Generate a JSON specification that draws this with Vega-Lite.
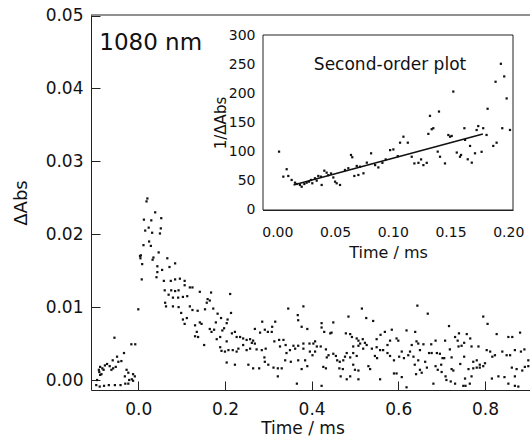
{
"$schema": "https://vega.github.io/schema/vega-lite/v6.json",
"width": 439, "height": 375,
"autosize": {"type": "none"},
"padding": {"left": 91, "top": 15, "right": 0, "bottom": 51},
"background": "white",
"config": {"view": {"stroke": null}, "font": "DejaVu Sans",
  "axis": {"domainColor": "#222", "tickColor": "#222", "labelColor": "#111", "titleColor": "#111", "labelFont": "DejaVu Sans", "titleFont": "DejaVu Sans", "titleFontWeight": "normal", "grid": false, "domainWidth": 1, "tickWidth": 1}},
"datasets": {
"main": [
{"t":-0.097,"a":-0.0007},{"t":-0.095,"a":0.0},{"t":-0.091,"a":0.0014},{"t":-0.090,"a":0.0011},{"t":-0.089,"a":-0.0009},{"t":-0.088,"a":0.0018},{"t":-0.088,"a":0.0007},{"t":-0.085,"a":0.0008},{"t":-0.083,"a":0.0016},{"t":-0.080,"a":0.0014},{"t":-0.079,"a":-0.0008},{"t":-0.077,"a":0.0020},{"t":-0.072,"a":0.0022},{"t":-0.068,"a":-0.0007},{"t":-0.066,"a":0.0019},{"t":-0.062,"a":0.0014},{"t":-0.059,"a":0.0027},{"t":-0.058,"a":0.0016},{"t":-0.055,"a":0.0058},{"t":-0.054,"a":-0.0007},{"t":-0.052,"a":0.0018},{"t":-0.049,"a":0.0032},{"t":-0.046,"a":0.0025},{"t":-0.041,"a":-0.0007},{"t":-0.039,"a":0.0026},{"t":-0.033,"a":0.0037},{"t":-0.031,"a":0.0005},{"t":-0.030,"a":-0.0005},{"t":-0.027,"a":0.0014},{"t":-0.023,"a":0.0010},{"t":-0.023,"a":-0.0005},{"t":-0.021,"a":0.0},{"t":-0.016,"a":0.0049},{"t":-0.015,"a":0.0001},{"t":-0.012,"a":0.0008},{"t":-0.012,"a":-0.0001},{"t":-0.008,"a":0.0005},{"t":-0.007,"a":0.0049},
{"t":0.000,"a":0.0097},{"t":0.004,"a":0.0170},{"t":0.005,"a":0.0167},{"t":0.006,"a":0.0171},{"t":0.008,"a":0.0138},{"t":0.009,"a":0.0159},{"t":0.012,"a":0.0185},{"t":0.013,"a":0.0220},{"t":0.016,"a":0.0205},{"t":0.019,"a":0.0245},{"t":0.021,"a":0.0249},{"t":0.024,"a":0.0209},{"t":0.025,"a":0.0190},{"t":0.029,"a":0.0184},{"t":0.030,"a":0.0219},{"t":0.032,"a":0.0202},{"t":0.033,"a":0.0165},{"t":0.035,"a":0.0168},{"t":0.039,"a":0.0230},{"t":0.042,"a":0.0141},{"t":0.044,"a":0.0156},{"t":0.044,"a":0.0148},{"t":0.047,"a":0.0175},{"t":0.050,"a":0.0201},{"t":0.052,"a":0.0208},{"t":0.053,"a":0.0222},{"t":0.055,"a":0.0151},{"t":0.059,"a":0.0136},{"t":0.061,"a":0.0123},{"t":0.062,"a":0.0106},{"t":0.064,"a":0.0101},{"t":0.067,"a":0.0167},{"t":0.070,"a":0.0117},{"t":0.072,"a":0.0155},{"t":0.075,"a":0.0136},{"t":0.076,"a":0.0123},{"t":0.080,"a":0.0113},{"t":0.080,"a":0.0101},{"t":0.085,"a":0.0160},{"t":0.085,"a":0.0138},{"t":0.085,"a":0.0122},{"t":0.092,"a":0.0113},{"t":0.093,"a":0.0123},{"t":0.093,"a":0.0100},{"t":0.096,"a":0.0139},{"t":0.099,"a":0.0092},{"t":0.103,"a":0.0114},{"t":0.103,"a":0.0083},{"t":0.107,"a":0.0136},{"t":0.107,"a":0.0130},{"t":0.107,"a":0.0077},{"t":0.112,"a":0.0085},{"t":0.113,"a":0.0115},
{"t":0.119,"a":0.0127},{"t":0.125,"a":0.0127},{"t":0.142,"a":0.0121},{"t":0.168,"a":0.0120},{"t":0.160,"a":0.0111},{"t":0.158,"a":0.0106},{"t":0.165,"a":0.0109},{"t":0.119,"a":0.0101},{"t":0.125,"a":0.0096},{"t":0.137,"a":0.0095},{"t":0.154,"a":0.0097},{"t":0.173,"a":0.0098},{"t":0.212,"a":0.0118},{"t":0.183,"a":0.0091},{"t":0.214,"a":0.0092},{"t":0.191,"a":0.0085},{"t":0.206,"a":0.0083},{"t":0.204,"a":0.0078},{"t":0.179,"a":0.0079},{"t":0.142,"a":0.0079},{"t":0.146,"a":0.0077},{"t":0.131,"a":0.0075},{"t":0.165,"a":0.0070},{"t":0.175,"a":0.0069},{"t":0.169,"a":0.0066},{"t":0.198,"a":0.0071},{"t":0.194,"a":0.0068},{"t":0.223,"a":0.0066},{"t":0.135,"a":0.0066},{"t":0.131,"a":0.0060},{"t":0.138,"a":0.0059},{"t":0.189,"a":0.0059},{"t":0.204,"a":0.0053},{"t":0.152,"a":0.0048},{"t":0.181,"a":0.0056},{"t":0.216,"a":0.0064},{"t":0.235,"a":0.0059},{"t":0.242,"a":0.0057},{"t":0.250,"a":0.0055},{"t":0.258,"a":0.0056},{"t":0.265,"a":0.0054},{"t":0.269,"a":0.0050},{"t":0.262,"a":0.0051},{"t":0.227,"a":0.0059},{"t":0.269,"a":0.0070},{"t":0.281,"a":0.0065},{"t":0.292,"a":0.0069},{"t":0.299,"a":0.0066},{"t":0.308,"a":0.0066},{"t":0.286,"a":0.0080},{"t":0.316,"a":0.0080},{"t":0.309,"a":0.0073},{"t":0.242,"a":0.0048},{"t":0.231,"a":0.0043},{"t":0.218,"a":0.0041},{"t":0.227,"a":0.0039},{"t":0.189,"a":0.0045},{"t":0.192,"a":0.0040},{"t":0.200,"a":0.0039},{"t":0.208,"a":0.0041},{"t":0.250,"a":0.0041},{"t":0.258,"a":0.0043},{"t":0.273,"a":0.0042},{"t":0.285,"a":0.0041},{"t":0.294,"a":0.0043},{"t":0.314,"a":0.0053},{"t":0.325,"a":0.0055},{"t":0.335,"a":0.0055},{"t":0.340,"a":0.0048},{"t":0.327,"a":0.0046},{"t":0.350,"a":0.0041},{"t":0.342,"a":0.0037},{"t":0.358,"a":0.0047},{"t":0.362,"a":0.0043},{"t":0.369,"a":0.0047},{"t":0.381,"a":0.0043},{"t":0.291,"a":0.0031},{"t":0.292,"a":0.0025},{"t":0.300,"a":0.0021},{"t":0.312,"a":0.0017},{"t":0.322,"a":0.0016},{"t":0.331,"a":0.0016},{"t":0.339,"a":0.0027},{"t":0.352,"a":0.0025},{"t":0.369,"a":0.0027},{"t":0.254,"a":0.0021},{"t":0.265,"a":0.0016},{"t":0.279,"a":0.0016},{"t":0.204,"a":0.0024},{"t":0.223,"a":0.0021},{"t":0.322,"a":0.0005},{"t":0.366,"a":-0.0005},{"t":0.377,"a":0.0015},{"t":0.346,"a":0.0098},{"t":0.381,"a":0.0101},{"t":0.369,"a":0.0082},{"t":0.368,"a":0.0089},{"t":0.377,"a":0.0073},
{"t":0.516,"a":0.0098},{"t":0.644,"a":0.0102},{"t":0.485,"a":0.0087},{"t":0.526,"a":0.0085},{"t":0.542,"a":0.0081},{"t":0.450,"a":0.0079},{"t":0.423,"a":0.0078},{"t":0.423,"a":0.0072},{"t":0.390,"a":0.0070},{"t":0.429,"a":0.0066},{"t":0.443,"a":0.0064},{"t":0.446,"a":0.0065},{"t":0.479,"a":0.0064},{"t":0.489,"a":0.0063},{"t":0.493,"a":0.0059},{"t":0.504,"a":0.0057},{"t":0.508,"a":0.0054},{"t":0.518,"a":0.0056},{"t":0.523,"a":0.0051},{"t":0.512,"a":0.0050},{"t":0.550,"a":0.0056},{"t":0.559,"a":0.0062},{"t":0.569,"a":0.0066},{"t":0.581,"a":0.0054},{"t":0.575,"a":0.0048},{"t":0.585,"a":0.0069},{"t":0.596,"a":0.0057},{"t":0.600,"a":0.0054},{"t":0.619,"a":0.0068},{"t":0.639,"a":0.0066},{"t":0.642,"a":0.0053},{"t":0.631,"a":0.0048},{"t":0.646,"a":0.0050},{"t":0.627,"a":0.0039},
{"t":0.381,"a":0.0050},{"t":0.395,"a":0.0050},{"t":0.404,"a":0.0050},{"t":0.408,"a":0.0053},{"t":0.412,"a":0.0046},{"t":0.396,"a":0.0039},{"t":0.408,"a":0.0039},{"t":0.402,"a":0.0034},{"t":0.385,"a":0.0027},{"t":0.390,"a":0.0019},{"t":0.421,"a":0.0046},{"t":0.433,"a":0.0042},{"t":0.439,"a":0.0034},{"t":0.435,"a":0.0031},{"t":0.450,"a":0.0036},{"t":0.456,"a":0.0033},{"t":0.459,"a":0.0027},{"t":0.465,"a":0.0025},{"t":0.473,"a":0.0027},{"t":0.477,"a":0.0032},{"t":0.427,"a":0.0018},{"t":0.433,"a":0.0016},{"t":0.464,"a":0.0016},{"t":0.472,"a":0.0015},{"t":0.496,"a":0.0021},{"t":0.500,"a":0.0014},{"t":0.508,"a":0.0013},{"t":0.531,"a":0.0019},{"t":0.535,"a":0.0015},{"t":0.467,"a":0.0005},{"t":0.481,"a":0.0001},{"t":0.489,"a":0.0005},{"t":0.508,"a":0.0001},{"t":0.558,"a":0.0001},{"t":0.590,"a":0.0009},{"t":0.596,"a":0.0009},{"t":0.423,"a":-0.0008},{"t":0.619,"a":-0.0010},{"t":0.608,"a":0.0004},
{"t":0.527,"a":0.0048},{"t":0.539,"a":0.0043},{"t":0.550,"a":0.0045},{"t":0.558,"a":0.0041},{"t":0.565,"a":0.0041},{"t":0.546,"a":0.0033},{"t":0.551,"a":0.0030},{"t":0.575,"a":0.0037},{"t":0.581,"a":0.0033},{"t":0.590,"a":0.0027},{"t":0.602,"a":0.0032},{"t":0.608,"a":0.0039},{"t":0.613,"a":0.0030},{"t":0.623,"a":0.0034},{"t":0.635,"a":0.0032},{"t":0.646,"a":0.0027},{"t":0.638,"a":0.0021},{"t":0.641,"a":0.0008},{"t":0.496,"a":0.0046},{"t":0.508,"a":0.0047},{"t":0.519,"a":0.0043},{"t":0.496,"a":0.0037},{"t":0.504,"a":0.0033},{"t":0.481,"a":0.0037},{"t":0.489,"a":0.0031},
{"t":0.668,"a":0.0091},{"t":0.796,"a":0.0087},{"t":0.806,"a":0.0077},{"t":0.717,"a":0.0074},{"t":0.731,"a":0.0059},{"t":0.740,"a":0.0064},{"t":0.737,"a":0.0054},{"t":0.758,"a":0.0063},{"t":0.766,"a":0.0057},{"t":0.827,"a":0.0063},{"t":0.881,"a":0.0065},{"t":0.854,"a":0.0059},{"t":0.863,"a":0.0059},{"t":0.658,"a":0.0049},{"t":0.676,"a":0.0049},{"t":0.686,"a":0.0054},{"t":0.708,"a":0.0054},{"t":0.719,"a":0.0042},{"t":0.739,"a":0.0046},{"t":0.746,"a":0.0047},{"t":0.752,"a":0.0051},{"t":0.769,"a":0.0046},{"t":0.785,"a":0.0046},
{"t":0.650,"a":0.0041},{"t":0.671,"a":0.0037},{"t":0.677,"a":0.0037},{"t":0.689,"a":0.0037},{"t":0.696,"a":0.0036},{"t":0.702,"a":0.0030},{"t":0.706,"a":0.0030},{"t":0.723,"a":0.0031},{"t":0.752,"a":0.0032},{"t":0.773,"a":0.0025},{"t":0.781,"a":0.0027},{"t":0.788,"a":0.0021},{"t":0.800,"a":0.0023},{"t":0.804,"a":0.0041},{"t":0.812,"a":0.0039},{"t":0.817,"a":0.0032},{"t":0.823,"a":0.0034},{"t":0.840,"a":0.0039},{"t":0.850,"a":0.0034},{"t":0.858,"a":0.0034},{"t":0.869,"a":0.0041},{"t":0.883,"a":0.0039},{"t":0.891,"a":0.0042},{"t":0.900,"a":0.0027},
{"t":0.662,"a":0.0025},{"t":0.666,"a":0.0017},{"t":0.650,"a":0.0014},{"t":0.654,"a":0.0010},{"t":0.686,"a":0.0019},{"t":0.691,"a":0.0014},{"t":0.699,"a":0.0021},{"t":0.700,"a":0.0011},{"t":0.723,"a":0.0015},{"t":0.727,"a":0.0013},{"t":0.743,"a":0.0022},{"t":0.762,"a":0.0015},{"t":0.773,"a":0.0016},{"t":0.781,"a":0.0017},{"t":0.788,"a":0.0017},{"t":0.796,"a":0.0019},
{"t":0.709,"a":0.0005},{"t":0.711,"a":0.0},{"t":0.721,"a":-0.0002},{"t":0.731,"a":-0.0005},{"t":0.750,"a":-0.0008},{"t":0.755,"a":-0.0008},{"t":0.765,"a":-0.0005},{"t":0.681,"a":-0.0005},{"t":0.754,"a":0.0002},{"t":0.769,"a":0.0005},{"t":0.816,"a":0.0002},{"t":0.831,"a":0.0005},{"t":0.845,"a":0.0004},{"t":0.869,"a":0.0005},{"t":0.862,"a":0.0017},{"t":0.873,"a":0.0015},{"t":0.886,"a":0.0013},{"t":0.892,"a":0.0018},{"t":0.900,"a":0.0019},{"t":0.854,"a":-0.0005},{"t":0.869,"a":-0.0008},{"t":0.877,"a":-0.0009}
],
"inset": [
{"t":0.0015,"a":100},{"t":0.0081,"a":69.7},{"t":0.0052,"a":56.9},{"t":0.0095,"a":58.1},{"t":0.0124,"a":51.2},{"t":0.0153,"a":46.5},{"t":0.0168,"a":44.3},{"t":0.0196,"a":42.6},{"t":0.0211,"a":39.6},{"t":0.0234,"a":44.3},{"t":0.0254,"a":46.5},{"t":0.0274,"a":48.3},{"t":0.0291,"a":51.2},{"t":0.0303,"a":45.5},{"t":0.0326,"a":54.1},{"t":0.0341,"a":50},{"t":0.0355,"a":58.1},{"t":0.0378,"a":56.9},{"t":0.0384,"a":42.6},{"t":0.0407,"a":67.2},{"t":0.0427,"a":63.8},{"t":0.0441,"a":59.5},{"t":0.0465,"a":62.4},{"t":0.0485,"a":55.5},{"t":0.0500,"a":48.3},{"t":0.0514,"a":45.5},{"t":0.0543,"a":42.6},
{"t":0.0586,"a":68.4},{"t":0.0615,"a":71.4},{"t":0.0638,"a":94.3},{"t":0.0649,"a":90.3},{"t":0.0688,"a":75.3},{"t":0.0716,"a":74.1},{"t":0.0667,"a":58.1},{"t":0.0702,"a":59.8},{"t":0.0746,"a":62.7},{"t":0.0775,"a":81},{"t":0.0812,"a":97.1},{"t":0.0847,"a":76.8},{"t":0.0875,"a":72.8},{"t":0.0910,"a":80.7},{"t":0.0939,"a":86.6},{"t":0.0977,"a":102.6},{"t":0.1005,"a":103.8},{"t":0.1043,"a":92.3},{"t":0.1063,"a":115.4},{"t":0.1092,"a":125.7},{"t":0.1130,"a":115.4},{"t":0.1164,"a":91.2},{"t":0.1187,"a":79.7},{"t":0.1222,"a":80.7},{"t":0.1245,"a":86.6},{"t":0.1265,"a":76.8},{"t":0.1294,"a":80.7},{"t":0.1308,"a":130.5},
{"t":0.1322,"a":161.6},{"t":0.1337,"a":138.6},{"t":0.1351,"a":140.3},{"t":0.1400,"a":169},{"t":0.1389,"a":100},{"t":0.1409,"a":91.2},{"t":0.1452,"a":79.7},{"t":0.1496,"a":125.7},{"t":0.1510,"a":127},{"t":0.1481,"a":128.6},{"t":0.1524,"a":203.4},{"t":0.1554,"a":98.4},{"t":0.1582,"a":91.2},{"t":0.1591,"a":94.3},{"t":0.1620,"a":140.3},{"t":0.1626,"a":120.2},{"t":0.1649,"a":86.8},{"t":0.1669,"a":109.8},{"t":0.1684,"a":81},{"t":0.1712,"a":97.1},{"t":0.1726,"a":137.2},{"t":0.1740,"a":144},{"t":0.1769,"a":99.7},{"t":0.1783,"a":140.3},{"t":0.1812,"a":128.7},{"t":0.1821,"a":173.8},{"t":0.1870,"a":109.8},{"t":0.1890,"a":220.3},{"t":0.1899,"a":115.4},{"t":0.1936,"a":251.2},{"t":0.1948,"a":140.3},{"t":0.1965,"a":229.5},{"t":0.1986,"a":191.6},{"t":0.2015,"a":137.3}
],
"fit": [{"t":0.014,"a":42.6},{"t":0.178,"a":130.5}]
},
"layer": [
{"data": {"values": [{}]}, "mark": {"type": "rule", "color": "#222", "strokeWidth": 1},
 "encoding": {"y": {"datum": 0.05007, "type": "quantitative", "scale": {"domain": [-0.00137, 0.05007], "nice": false, "zero": false},
   "axis": {"orient": "right", "offset": -439, "values": [0, 0.01, 0.02, 0.03, 0.04, 0.05], "labels": false, "domain": false, "ticks": true, "tickSize": 9, "title": null}}}},
{"data": {"name": "main"}, "mark": {"type": "square", "size": 5, "color": "#111", "opacity": 1},
 "encoding": {
  "x": {"field": "t", "type": "quantitative", "scale": {"domain": [-0.1091, 0.9039], "nice": false, "zero": false},
        "axis": {"orient": "bottom", "values": [0, 0.2, 0.4, 0.6, 0.8], "format": ".1f", "ticks": false, "labelPadding": 11, "labelFontSize": 17, "title": "Time / ms", "titleFontSize": 17, "titlePadding": 3, "titleX": 211.5}},
  "y": {"field": "a", "type": "quantitative", "scale": {"domain": [-0.00137, 0.05007], "nice": false, "zero": false},
        "axis": {"orient": "left", "values": [0, 0.01, 0.02, 0.03, 0.04, 0.05], "format": ".2f", "ticks": false, "labelPadding": 8, "labelFontSize": 17, "title": "ΔAbs", "titleFontSize": 18, "titlePadding": 15}}}},
{"data": {"values": [{}]}, "mark": {"type": "text", "align": "left", "baseline": "alphabetic", "fontSize": 23, "font": "DejaVu Sans", "color": "#111"},
 "encoding": {"x": {"datum": -0.0900, "type": "quantitative", "scale": {"domain": [-0.1091, 0.9039], "nice": false, "zero": false},
    "axis": {"orient": "top", "offset": -375, "values": [0, 0.2, 0.4, 0.6, 0.8], "labels": false, "domain": false, "ticks": true, "tickSize": 9, "title": null}},
  "y": {"datum": 0.04527, "type": "quantitative", "scale": {"domain": [-0.00137, 0.05007], "nice": false, "zero": false}, "axis": null},
  "text": {"value": "1080 nm"}}},
{"data": {"values": [{}]}, "mark": {"type": "rect", "fill": "white", "stroke": "#222", "strokeWidth": 1},
 "encoding": {"x": {"datum": -0.0124, "type": "quantitative", "scale": {"domain": [-0.0124, 0.2041], "range": [172, 422], "nice": false, "zero": false},
    "axis": {"orient": "top", "offset": -195, "values": [0, 0.05, 0.1, 0.15, 0.2], "labels": false, "domain": false, "ticks": true, "tickSize": 8, "title": null}},
  "x2": {"datum": 0.2041},
  "y": {"datum": -0.5, "type": "quantitative", "scale": {"domain": [-0.5, 300.8], "range": [195, 20], "nice": false, "zero": false},
    "axis": {"orient": "right", "offset": -267, "values": [0, 50, 100, 150, 200, 250, 300], "labels": false, "domain": false, "ticks": true, "tickSize": 8, "title": null}},
  "y2": {"datum": 300.8}}},
{"data": {"name": "fit"}, "mark": {"type": "line", "color": "#111", "strokeWidth": 1.5},
 "encoding": {"x": {"field": "t", "type": "quantitative", "scale": {"domain": [-0.0124, 0.2041], "range": [172, 422], "nice": false, "zero": false}, "axis": null},
  "y": {"field": "a", "type": "quantitative", "scale": {"domain": [-0.5, 300.8], "range": [195, 20], "nice": false, "zero": false}, "axis": null}}},
{"data": {"name": "inset"}, "mark": {"type": "square", "size": 5, "color": "#111", "opacity": 1},
 "encoding": {
  "x": {"field": "t", "type": "quantitative", "scale": {"domain": [-0.0124, 0.2041], "range": [172, 422], "nice": false, "zero": false},
        "axis": {"orient": "bottom", "offset": -180, "values": [0, 0.05, 0.1, 0.15, 0.2], "format": ".2f", "ticks": false, "labelPadding": 15, "labelFontSize": 14, "title": "Time / ms", "titleFontSize": 16, "titlePadding": 5}},
  "y": {"field": "a", "type": "quantitative", "scale": {"domain": [-0.5, 300.8], "range": [195, 20], "nice": false, "zero": false},
        "axis": {"orient": "left", "offset": -172, "values": [0, 50, 100, 150, 200, 250, 300], "ticks": false, "labelPadding": 8, "labelFontSize": 14, "title": "1/ΔAbs", "titleFontSize": 15, "titlePadding": 0}}}},
{"data": {"values": [{}]}, "mark": {"type": "text", "align": "center", "baseline": "alphabetic", "fontSize": 17, "font": "DejaVu Sans", "color": "#111"},
 "encoding": {"x": {"datum": 0.0976, "type": "quantitative", "scale": {"domain": [-0.0124, 0.2041], "range": [172, 422], "nice": false, "zero": false}, "axis": null},
  "y": {"datum": 240.6, "type": "quantitative", "scale": {"domain": [-0.5, 300.8], "range": [195, 20], "nice": false, "zero": false}, "axis": null},
  "text": {"value": "Second-order plot"}}}
],
"resolve": {"scale": {"x": "independent", "y": "independent"}, "axis": {"x": "independent", "y": "independent"}}
}
